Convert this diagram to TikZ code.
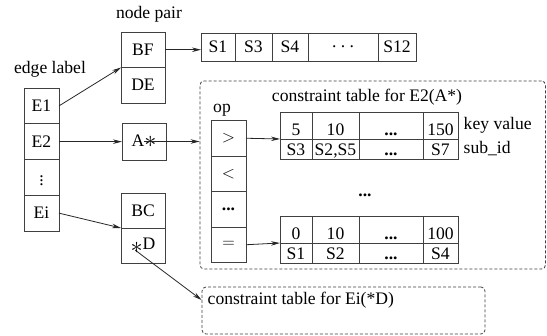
\documentclass[tikz,border=0pt]{standalone}
\usepackage{fontspec}
\setmainfont{Liberation Serif}
\usetikzlibrary{arrows.meta,positioning}

\begin{document}
\begin{tikzpicture}[x=1pt,y=-1pt,>={Stealth[length=9pt,width=4.5pt]},
  font=\rmfamily\fontsize{17.6}{21}\selectfont,line width=0.8pt,
  cell/.style={draw=black!75,inner sep=0pt,outer sep=0pt},
  keycell/.style={cell,text height=24pt,text depth=3pt},
  subcell/.style={cell,text height=17pt,text depth=3pt},
  dashbox/.style={draw=black!75,dash pattern=on 3pt off 2pt,rounded corners=4pt,inner sep=0pt},
  link/.style={->,draw=black!85}]
\useasboundingbox (0,0) rectangle (547,336);
% edge labels
\node at (50,69) (edgetitle) {edge label};
\node[cell,minimum width=35pt,minimum height=35.75pt] (e1) at (41.5,105.9) {E1};
\node[cell,minimum width=35pt,minimum height=35.75pt,below=0pt of e1] (e2) {E2};
\node[cell,minimum width=35pt,minimum height=35.75pt,below=0pt of e2] (evd) {$\vdots$};
\node[cell,minimum width=35pt,minimum height=35.75pt,below=0pt of evd] (ei) {Ei};
% node pairs
\node at (149,14) (pairtitle) {node pair};
\node[cell,minimum width=44pt,minimum height=35.5pt] (bf) at (143,49.75) {BF};
\node[cell,minimum width=44pt,minimum height=35.5pt,below=0pt of bf] (de) {DE};
\node[cell,minimum width=44pt,minimum height=37pt] (astar) at (144,141.5) {A\raisebox{-1pt}{\scalebox{1.4}{$\ast$}}};
\node[cell,minimum width=44pt,minimum height=35pt] (bc) at (143,210.5) {BC};
\node[cell,minimum width=44pt,minimum height=35pt,below=0pt of bc] (sd) {\raisebox{-4pt}{\scalebox{1.4}{$\ast$}}D};
% subscriber list
\node[cell,minimum width=34pt,minimum height=28pt] (s1) at (218,47) {S1};
\node[cell,minimum width=37pt,minimum height=28pt,right=0pt of s1] (s3) {S3};
\node[cell,minimum width=36pt,minimum height=28pt,right=0pt of s3] (s4) {S4};
\node[cell,minimum width=70pt,minimum height=28pt,right=0pt of s4] (sdots) {.\ .\ .};
\node[cell,minimum width=38pt,minimum height=28pt,right=0pt of sdots] (s12) {S12};
% constraint table for E2(A*)
\node[dashbox,minimum width=345.5pt,minimum height=188pt] (ct2) at (372.75,175) {};
\node at (367,97) (ct2title) {constraint table for E2(A*)};
\node at (222,110) (optitle) {op};
\node[cell,minimum width=35pt,minimum height=35.5pt] (gt) at (228.5,138.25) {$>$};
\node[cell,minimum width=35pt,minimum height=35.5pt,below=0pt of gt] (lt) {$<$};
\node[cell,minimum width=35pt,minimum height=35.5pt,below=0pt of lt] (odots) {\textbf{...}};
\node[cell,minimum width=35pt,minimum height=35.5pt,below=0pt of odots] (eq) {$=$};
\node[keycell,minimum width=32pt] (k1) at (296,125.5) {5};
\node[keycell,minimum width=47pt,right=0pt of k1] (k2) {10};
\node[keycell,minimum width=64pt,right=0pt of k2] (k3) {\textbf{...}};
\node[keycell,minimum width=35pt,right=0pt of k3] (k4) {150};
\node[subcell,minimum width=32pt,below=0pt of k1] (v1) {S3};
\node[subcell,minimum width=47pt,right=0pt of v1] (v2) {S2,S5};
\node[subcell,minimum width=64pt,right=0pt of v2] (v3) {\textbf{...}};
\node[subcell,minimum width=35pt,right=0pt of v3] (v4) {S7};
\node[right=2pt of k4] (keytitle) {key value};
\node[right=2pt of v4] (subtitle) {sub\_id};
\node at (365,195) (mdots) {\textbf{...}};
\node[keycell,minimum width=32pt] (n1) at (296,229.5) {0};
\node[keycell,minimum width=47pt,right=0pt of n1] (n2) {10};
\node[keycell,minimum width=64pt,right=0pt of n2] (n3) {\textbf{...}};
\node[keycell,minimum width=35pt,right=0pt of n3] (n4) {100};
\node[subcell,minimum width=32pt,below=0pt of n1] (w1) {S1};
\node[subcell,minimum width=47pt,right=0pt of w1] (w2) {S2};
\node[subcell,minimum width=64pt,right=0pt of w2] (w3) {\textbf{...}};
\node[subcell,minimum width=35pt,right=0pt of w3] (w4) {S4};
% constraint table for Ei(*D)
\node[dashbox,minimum width=283pt,minimum height=47pt] (ct1) at (343.5,310.5) {};
\node[anchor=west] at (204,300) (ct1title) {constraint table for Ei(*D)};
\coordinate (star) at ([xshift=-8pt,yshift=-4.5pt]sd.center);
% links
\foreach \a/\b in {e1.east/bf.south west,ei.east/bc.south west,gt.east/k1.south west,eq.east/n1.south west}
  \draw[link] (\a)--(\b);
\draw[link] (bf.east) -- (bf.east -| s1.west);
\draw[link] (e2.east) -- (e2.east -| astar.west);
\draw[link] (astar.center) -- (astar.center -| ct2.west);
\draw[link] (star) -- (ct1.west |- ct1title.west);
\end{tikzpicture}
\end{document}
